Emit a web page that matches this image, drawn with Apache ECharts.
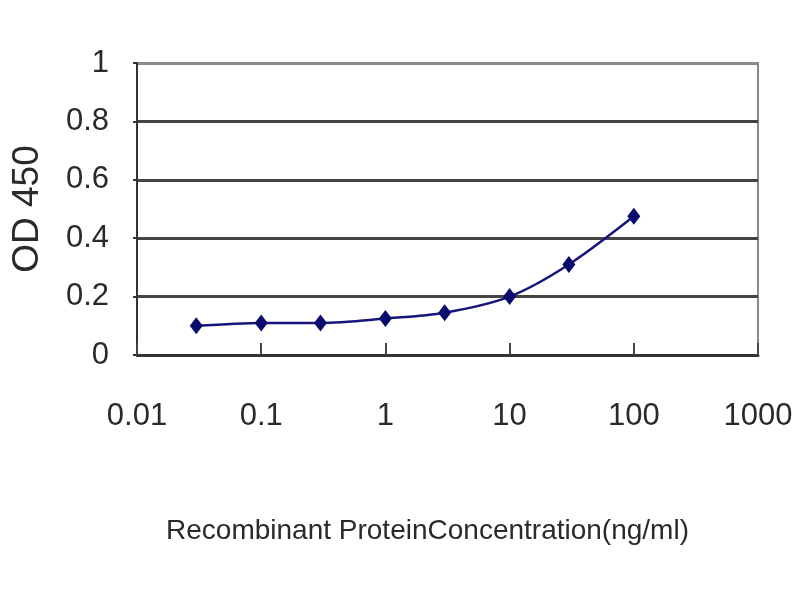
<!DOCTYPE html>
<html>
<head>
<meta charset="utf-8">
<script src="https://cdn.jsdelivr.net/npm/echarts@6/dist/echarts.min.js"></script>
<style>
html,body{margin:0;padding:0;background:#fff;}
#chart{width:800px;height:600px;}
</style>
</head>
<body>
<div id="chart"></div>
<script>
// Data
const concentrations = [0.03, 0.1, 0.3, 1, 3, 10, 30, 100];
const od450 = [0.10, 0.11, 0.11, 0.125, 0.145, 0.20, 0.31, 0.475];
const xTickLabels = ['0.01', '0.1', '1', '10', '100', '1000'];
const yTickLabels = ['0', '0.2', '0.4', '0.6', '0.8', '1'];
const xTitle = 'Recombinant ProteinConcentration(ng/ml)';
const yTitle = 'OD 450';

const FONT = '"Liberation Sans", Arial, sans-serif';
const chart = echarts.init(document.getElementById('chart'));
chart.setOption({
  animation: false,
  backgroundColor: '#ffffff',
  grid: {
    left: 137, right: 42, top: 63, bottom: 245,
    show: true, borderColor: '#8a8a8a', borderWidth: 2, backgroundColor: 'transparent'
  },
  xAxis: {
    type: 'log', logBase: 10, min: 0.01, max: 1000,
    name: xTitle, nameLocation: 'middle', nameGap: 162,
    nameTextStyle: { fontFamily: FONT, fontSize: 28, color: '#2a2a2a', padding: [0, 40, 0, 0] },
    axisLine: { show: true, lineStyle: { color: '#333', width: 3 } },
    axisTick: { show: true, inside: true, length: 12, lineStyle: { color: '#444', width: 2 } },
    minorTick: { show: false },
    splitLine: { show: false },
    axisLabel: {
      margin: 46, fontFamily: FONT, fontSize: 31, color: '#2a2a2a',
      formatter: (v, i) => xTickLabels[i] !== undefined ? xTickLabels[i] : ''
    }
  },
  yAxis: {
    type: 'value', min: 0, max: 1, interval: 0.2,
    name: yTitle, nameLocation: 'middle', nameGap: 91, nameRotate: 90,
    nameTextStyle: { fontFamily: FONT, fontSize: 37, color: '#2a2a2a' },
    axisLine: { show: true, lineStyle: { color: '#333', width: 2 } },
    axisTick: { show: true, length: 4, lineStyle: { color: '#333', width: 2 } },
    splitLine: { show: true, lineStyle: { color: ['#444', '#444', '#444', '#444', '#444', '#8a8a8a'], width: 3 } },
    axisLabel: {
      margin: 28, fontFamily: FONT, fontSize: 31, color: '#2a2a2a',
      formatter: (v, i) => yTickLabels[i] !== undefined ? yTickLabels[i] : ''
    }
  },
  series: [{
    type: 'line',
    data: concentrations.map((c, i) => [c, od450[i]]),
    smooth: 0.3,
    symbol: 'diamond',
    symbolSize: [13, 17],
    itemStyle: { color: '#0a0a6e' },
    lineStyle: { color: '#15157a', width: 2.5 }
  }]
});
</script>
</body>
</html>
